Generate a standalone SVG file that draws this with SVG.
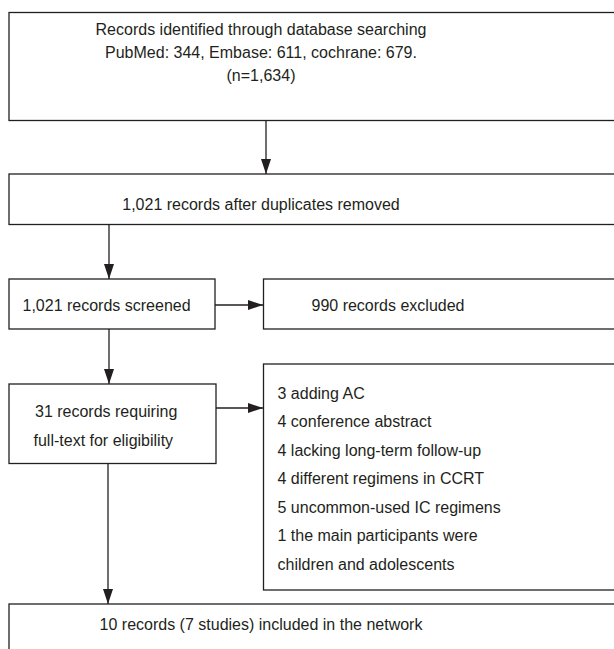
<svg xmlns="http://www.w3.org/2000/svg" width="614" height="649" viewBox="0 0 614 649">
<defs>
<style>
.box{fill:#fff;stroke:#231f20;stroke-width:1.3}
.t{font-family:"Liberation Sans",Arial,sans-serif;font-size:16px;fill:#231f20}
.c{text-anchor:middle}
.ln{stroke:#231f20;stroke-width:1.3;fill:none}
</style>
<marker id="ah" markerUnits="userSpaceOnUse" markerWidth="15" markerHeight="10" refX="15" refY="5" orient="auto">
<path d="M0,0 L15,5 L0,10 z" fill="#231f20"/>
</marker>
</defs>
<rect width="614" height="649" fill="#fff"/>
<g id="connectors">
<line class="ln" x1="266" y1="121" x2="266" y2="174" marker-end="url(#ah)"/>
<line class="ln" x1="109" y1="225" x2="109" y2="279" marker-end="url(#ah)"/>
<line class="ln" x1="215" y1="305" x2="263" y2="305" marker-end="url(#ah)"/>
<line class="ln" x1="109" y1="329" x2="109" y2="384" marker-end="url(#ah)"/>
<line class="ln" x1="216" y1="408" x2="263" y2="408" marker-end="url(#ah)"/>
<line class="ln" x1="108" y1="463" x2="108" y2="604" marker-end="url(#ah)"/>
</g>
<g id="identified">
<rect class="box" x="9" y="12.5" width="620" height="108"/>
<text class="t c" x="261" y="34.5">Records identified through database searching</text>
<text class="t c" x="261" y="57.5">PubMed: 344, Embase: 611, cochrane: 679.</text>
<text class="t c" x="261" y="80.5">(n=1,634)</text>
</g>
<g id="duplicates">
<rect class="box" x="9" y="174" width="620" height="50.5"/>
<text class="t c" x="261" y="209.5">1,021 records after duplicates removed</text>
</g>
<g id="screened">
<rect class="box" x="9" y="279" width="206" height="50"/>
<text class="t" x="22.5" y="311">1,021 records screened</text>
</g>
<g id="excluded">
<rect class="box" x="263.5" y="279" width="370" height="50"/>
<text class="t c" x="388" y="311">990 records excluded</text>
</g>
<g id="fulltext">
<rect class="box" x="9" y="384" width="207" height="79.5"/>
<text class="t" x="35" y="416.5">31 records requiring</text>
<text class="t" x="33.5" y="445.5">full-text for eligibility</text>
</g>
<g id="reasons">
<rect class="box" x="263.5" y="364" width="370" height="226"/>
<text class="t" x="277.5" y="398.5">3 adding AC</text>
<text class="t" x="277.5" y="427">4 conference abstract</text>
<text class="t" x="277.5" y="455.5">4 lacking long-term follow-up</text>
<text class="t" x="277.5" y="484">4 different regimens in CCRT</text>
<text class="t" x="277.5" y="512.5">5 uncommon-used IC regimens</text>
<text class="t" x="277.5" y="541">1 the main participants were</text>
<text class="t" x="277.5" y="569.5">children and adolescents</text>
</g>
<g id="included">
<rect class="box" x="9" y="604" width="620" height="60"/>
<text class="t c" x="261" y="629.5">10 records (7 studies) included in the network</text>
</g>
</svg>
